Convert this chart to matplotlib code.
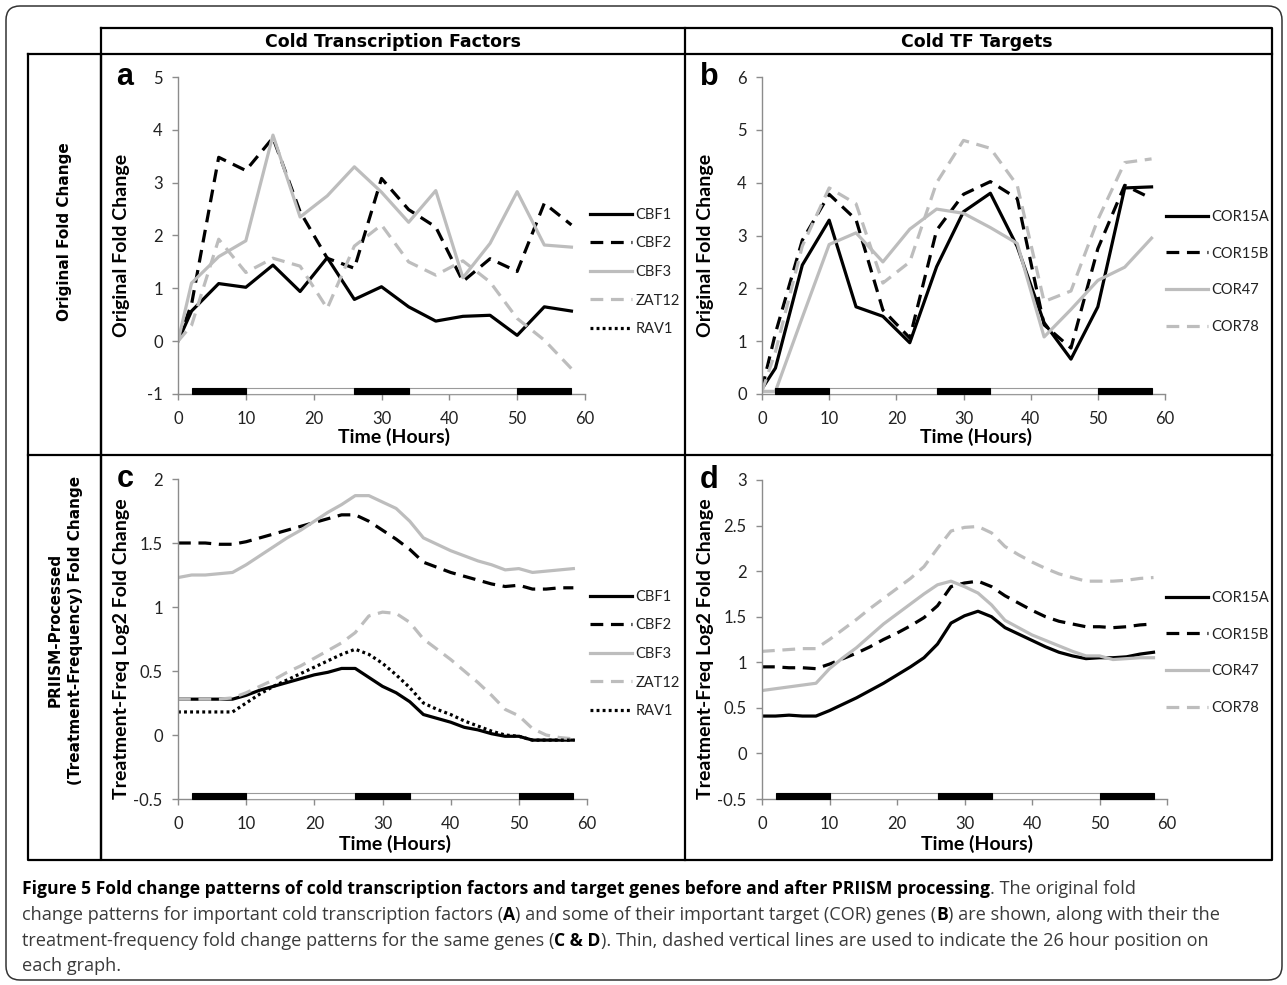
import matplotlib
matplotlib.use("Agg")
import matplotlib.pyplot as plt
from matplotlib.patches import FancyBboxPatch, Rectangle
from matplotlib.transforms import blended_transform_factory

# ---- data -------------------------------------------------------------
hours_ab = [0, 2, 6, 10, 14, 18, 22, 26, 30, 34, 38, 42, 46, 50, 54, 58]

cbf1_a = [0, 0.57, 1.09, 1.02, 1.44, 0.94, 1.58, 0.79, 1.03, 0.65, 0.38, 0.47, 0.49, 0.11, 0.65, 0.57]
cbf2_a = [0, 0.7, 3.48, 3.23, 3.85, 2.45, 1.57, 1.38, 3.08, 2.49, 2.16, 1.13, 1.56, 1.32, 2.61, 2.2]
cbf3_a = [0, 1.1, 1.6, 1.9, 3.9, 2.35, 2.75, 3.3, 2.82, 2.25, 2.85, 1.2, 1.85, 2.83, 1.82, 1.78]
zat12_a = [0, 0.3, 1.93, 1.3, 1.57, 1.42, 0.62, 1.8, 2.2, 1.5, 1.25, 1.52, 1.12, 0.43, 0.02, -0.52]
rav1_a = []

cor15a_b = [0.1, 0.49, 2.44, 3.29, 1.65, 1.47, 0.97, 2.41, 3.45, 3.8, 2.79, 1.35, 0.66, 1.65, 3.9, 3.92]
cor15b_b = [0.1, 1.15, 2.91, 3.78, 3.3, 1.59, 1.06, 3.1, 3.78, 4.02, 3.7, 1.31, 0.87, 2.75, 3.95, 3.7]
cor47_b = [0.05, 0.05, 1.45, 2.83, 3.05, 2.5, 3.12, 3.5, 3.42, 3.15, 2.85, 1.08, 1.6, 2.15, 2.4, 2.95]
cor78_b = [0.05, 0.8, 2.8, 3.9, 3.6, 2.1, 2.5, 4.0, 4.8, 4.65, 3.95, 1.75, 1.95, 3.3, 4.38, 4.45]

hours_cd = list(range(0, 60, 2))

cbf1_c = [0.28, 0.28, 0.28, 0.28, 0.28, 0.31, 0.35, 0.38, 0.41, 0.44, 0.47, 0.49, 0.52, 0.52, 0.45,
          0.38, 0.33, 0.26, 0.16, 0.13, 0.10, 0.06, 0.04, 0.01, -0.01, -0.01, -0.04, -0.04, -0.04, -0.04]
cbf2_c = [1.5, 1.5, 1.5, 1.49, 1.49, 1.51, 1.54, 1.57, 1.6, 1.63, 1.66, 1.69, 1.72, 1.72, 1.67,
          1.6, 1.53, 1.45, 1.35, 1.31, 1.27, 1.24, 1.21, 1.18, 1.16, 1.17, 1.14, 1.14, 1.15, 1.15]
cbf3_c = [1.23, 1.25, 1.25, 1.26, 1.27, 1.33, 1.4, 1.47, 1.54, 1.6, 1.67, 1.74, 1.8, 1.87, 1.87,
          1.82, 1.77, 1.67, 1.54, 1.49, 1.44, 1.4, 1.36, 1.33, 1.29, 1.3, 1.27, 1.28, 1.29, 1.3]
zat12_c = [0.28, 0.28, 0.28, 0.28, 0.29, 0.33, 0.38, 0.43, 0.49, 0.54, 0.6, 0.66, 0.72, 0.8, 0.93,
           0.96, 0.95, 0.88, 0.75, 0.67, 0.59, 0.5, 0.41, 0.31, 0.2, 0.15, 0.05, 0.0, -0.02, -0.03]
rav1_c = [0.18, 0.18, 0.18, 0.18, 0.18, 0.25, 0.32, 0.38, 0.43, 0.48, 0.53, 0.58, 0.63, 0.67, 0.63,
          0.56, 0.47, 0.37, 0.25, 0.2, 0.16, 0.11, 0.07, 0.03, 0.0, -0.01, -0.04, -0.04, -0.04, -0.04]

cor15a_d = [0.41, 0.41, 0.42, 0.41, 0.41, 0.47, 0.54, 0.61, 0.69, 0.77, 0.86, 0.95, 1.05, 1.2, 1.43,
            1.51, 1.56, 1.5, 1.38, 1.31, 1.24, 1.17, 1.11, 1.07, 1.04, 1.05, 1.05, 1.06, 1.09, 1.11]
cor15b_d = [0.95, 0.95, 0.94, 0.94, 0.93, 0.98, 1.04, 1.1, 1.17, 1.25, 1.32, 1.4, 1.49, 1.62, 1.83,
            1.87, 1.89, 1.83, 1.73, 1.65, 1.57, 1.5, 1.45, 1.42, 1.39, 1.39, 1.38, 1.39, 1.41, 1.42]
cor47_d = [0.69, 0.71, 0.73, 0.75, 0.77, 0.93, 1.05, 1.16, 1.29, 1.42, 1.53, 1.64, 1.75, 1.85, 1.89,
           1.83, 1.76, 1.63, 1.46, 1.38, 1.3, 1.24, 1.18, 1.12, 1.07, 1.07, 1.03, 1.04, 1.05, 1.05]
cor78_d = [1.12, 1.13, 1.14, 1.15, 1.15, 1.25, 1.36, 1.47, 1.59, 1.7, 1.81, 1.92, 2.05, 2.25, 2.44,
           2.48, 2.49, 2.42, 2.27, 2.18, 2.1, 2.03, 1.97, 1.93, 1.89, 1.89, 1.89, 1.9, 1.92, 1.93]

# light / dark periods drawn along the time axis
dark_periods = [(2, 10), (26, 34), (50, 58)]
light_periods = [(10, 26), (34, 50)]

# ---- styles -----------------------------------------------------------
GRAY = "#bdbdbd"
LW = 2.3
styles = {
    "black_solid": dict(color="black", lw=LW, ls="-"),
    "black_dash": dict(color="black", lw=LW, ls=(0, (4, 2.4))),
    "gray_solid": dict(color=GRAY, lw=LW, ls="-"),
    "gray_dash": dict(color=GRAY, lw=LW, ls=(0, (4, 2.4))),
    "black_dot": dict(color="black", lw=LW, ls=(0, (0.9, 1.0))),
}

W, H = 1287, 985
fig = plt.figure(figsize=(W / 100, H / 100), dpi=100)

# overlay in pixel coordinates for the table frame and captions
ov = fig.add_axes([0, 0, 1, 1], zorder=-1)
ov.set_xlim(0, W)
ov.set_ylim(H, 0)
ov.axis("off")

ov.add_patch(FancyBboxPatch((6, 6), 1276, 974, boxstyle="round,pad=0,rounding_size=14",
                            fill=False, ec="#333333", lw=1.1))
tlw = 1.6
ov.plot([101, 1272, 1272, 101, 101], [28, 28, 860, 860, 28], color="black", lw=tlw)
ov.plot([28, 101, 101, 28, 28], [54, 54, 860, 860, 54], color="black", lw=tlw)
ov.plot([101, 1272], [54, 54], color="black", lw=tlw)
ov.plot([28, 1272], [455, 455], color="black", lw=tlw)
ov.plot([685, 685], [28, 860], color="black", lw=tlw)

hdr = dict(family="DejaVu Sans", weight="bold", ha="center", va="center")
ov.text(393, 42, "Cold Transcription Factors", fontsize=12.5, **hdr)
ov.text(977, 42, "Cold TF Targets", fontsize=12.5, **hdr)
ov.text(65, 232, "Original Fold Change", rotation=90, fontsize=11, **hdr)
ov.text(65, 630, "PRIISM-Processed\n(Treatment-Frequency) Fold Change", rotation=90,
        linespacing=1.45, fontsize=11, **hdr)


def px_axes(x0, x1, ytop, ybot):
    return fig.add_axes([x0 / W, 1 - ybot / H, (x1 - x0) / W, (ybot - ytop) / H])


def style_axes(ax, ylim, yticks, ylabel, letter, xlab_y):
    ax.set_xlim(0, 60)
    ax.set_ylim(*ylim)
    ax.set_xticks(range(0, 61, 10))
    ax.set_yticks(yticks)
    ax.set_yticklabels([("%g" % v) for v in yticks])
    for s in ["top", "right"]:
        ax.spines[s].set_visible(False)
    for s in ["left", "bottom"]:
        ax.spines[s].set_color("#8c8c8c")
        ax.spines[s].set_linewidth(1.0)
    ax.tick_params(direction="out", length=4, width=1, color="#8c8c8c",
                   labelsize=12, labelcolor="#222222")
    ax.tick_params(axis="x", pad=8)
    ax.tick_params(axis="y", pad=7)
    for t in ax.get_xticklabels() + ax.get_yticklabels():
        t.set_family("Lato")
    ax.set_xlabel("Time (Hours)", family="Lato", weight="bold", fontsize=14)
    ax.xaxis.set_label_coords(0.53, xlab_y)
    ax.set_ylabel(ylabel, family="Lato", weight="bold", fontsize=14)
    ax.yaxis.set_label_coords(-0.118, 0.47)
    ax.patch.set_alpha(0)
    ax.text(-0.13, 1.0, letter, transform=ax.transAxes, family="Liberation Sans",
            weight="bold", fontsize=22, ha="center", va="center")
    # light / dark bar
    tr = blended_transform_factory(ax.transData, ax.transAxes)
    for a, b in light_periods:
        ax.add_patch(Rectangle((a, 0.0), b - a, 0.018, transform=tr, fc="white",
                               ec="#9a9a9a", lw=0.8, clip_on=False, zorder=3))
    for a, b in dark_periods:
        ax.add_patch(Rectangle((a, 0.0), b - a, 0.018, transform=tr, fc="black",
                               ec="black", lw=0.8, clip_on=False, zorder=3))


def add_legend(ax, x_px, yc_px, spacing):
    leg = ax.legend(loc="center left", bbox_to_anchor=(x_px / W, 1 - yc_px / H),
                    bbox_transform=fig.transFigure, frameon=False, borderpad=0,
                    borderaxespad=0, handlelength=2.9, handletextpad=0.2,
                    labelspacing=spacing, prop=dict(family="Lato", size=10.5))
    for t in leg.get_texts():
        t.set_color("#222222")


# panel a
ax_a = px_axes(178, 585, 77, 394)
for vals, lab, st in [(cbf1_a, "CBF1", "black_solid"), (cbf2_a, "CBF2", "black_dash"),
                      (cbf3_a, "CBF3", "gray_solid"), (zat12_a, "ZAT12", "gray_dash")]:
    ax_a.plot(hours_ab, vals, label=lab, **styles[st])
ax_a.plot(hours_ab[:len(rav1_a)], rav1_a, label="RAV1", **styles["black_dot"])
style_axes(ax_a, (-1, 5), range(-1, 6), "Original Fold Change", "a", -0.108)
add_legend(ax_a, 590, 272, 1.0)

# panel b
ax_b = px_axes(762, 1165, 77, 394)
for vals, lab, st in [(cor15a_b, "COR15A", "black_solid"), (cor15b_b, "COR15B", "black_dash"),
                      (cor47_b, "COR47", "gray_solid"), (cor78_b, "COR78", "gray_dash")]:
    ax_b.plot(hours_ab, vals, label=lab, **styles[st])
style_axes(ax_b, (0, 6), range(0, 7), "Original Fold Change", "b", -0.108)
add_legend(ax_b, 1166, 272, 1.57)

# panel c
ax_c = px_axes(178, 587, 479, 799)
for vals, lab, st in [(cbf1_c, "CBF1", "black_solid"), (cbf2_c, "CBF2", "black_dash"),
                      (cbf3_c, "CBF3", "gray_solid"), (zat12_c, "ZAT12", "gray_dash"),
                      (rav1_c, "RAV1", "black_dot")]:
    ax_c.plot(hours_cd, vals, label=lab, **styles[st])
style_axes(ax_c, (-0.5, 2), [-0.5, 0, 0.5, 1, 1.5, 2], "Treatment-Freq Log2 Fold Change", "c", -0.112)
add_legend(ax_c, 590, 654, 1.0)

# panel d
ax_d = px_axes(762, 1167, 480, 799)
for vals, lab, st in [(cor15a_d, "COR15A", "black_solid"), (cor15b_d, "COR15B", "black_dash"),
                      (cor47_d, "COR47", "gray_solid"), (cor78_d, "COR78", "gray_dash")]:
    ax_d.plot(hours_cd, vals, label=lab, **styles[st])
style_axes(ax_d, (-0.5, 3), [-0.5, 0, 0.5, 1, 1.5, 2, 2.5, 3], "Treatment-Freq Log2 Fold Change", "d", -0.112)
add_legend(ax_d, 1166, 653, 1.57)

# ---- caption ----------------------------------------------------------
caption = [
    [("Figure 5 Fold change patterns of cold transcription factors and target genes before and after PRIISM processing", True),
     (". The original fold", False)],
    [("change patterns for important cold transcription factors (", False), ("A", True),
     (") and some of their important target (COR) genes (", False), ("B", True),
     (") are shown, along with their the", False)],
    [("treatment-frequency fold change patterns for the same genes (", False), ("C & D", True),
     ("). Thin, dashed vertical lines are used to indicate the 26 hour position on", False)],
    [("each graph.", False)],
]
renderer = fig.canvas.get_renderer()
cap_y = [889, 915, 941, 966]
for line, y in zip(caption, cap_y):
    x = 22
    for txt, bold in line:
        t = ov.text(x, y, txt, family="Open Sans", fontsize=12.6 if bold else 13.1,
                    va="center", ha="left", weight="bold" if bold else "normal",
                    color="black" if bold else "#3a3a3a")
        x += t.get_window_extent(renderer).width

fig.savefig("out.png", dpi=100)
